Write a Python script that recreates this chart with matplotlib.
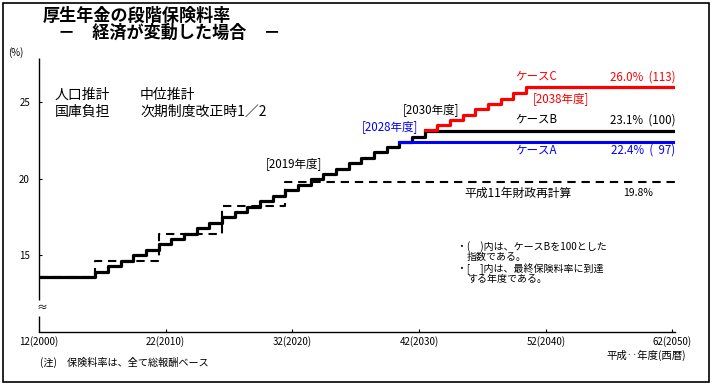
import matplotlib
matplotlib.use('Agg')
import matplotlib.pyplot as plt
from matplotlib.patches import Rectangle

plt.rcParams['font.family'] = ['Noto Sans CJK JP', 'DejaVu Sans']

# base path (common to all cases), fiscal years and rates (%)
base_years = [2000, 2004, 2005, 2006, 2007, 2008, 2009, 2010, 2011, 2012, 2013,
              2014, 2015, 2016, 2017, 2018, 2019, 2020, 2021, 2022, 2023,
              2024, 2025, 2026, 2027, 2028, 2029, 2030]
base_rates = [13.58, 13.93, 14.30, 14.65, 15.00, 15.37, 15.72, 16.08, 16.41, 16.76, 17.12,
              17.48, 17.85, 18.18, 18.54, 18.90, 19.25, 19.60, 19.96, 20.32, 20.67,
              21.02, 21.38, 21.75, 22.10, 22.40, 22.75, 23.10]
caseA_years = [2028]
caseA_rates = [22.4]
caseC_years = [2030, 2031, 2032, 2033, 2034, 2035, 2036, 2037, 2038]
caseC_rates = [23.2, 23.5, 23.85, 24.2, 24.55, 24.9, 25.25, 25.6, 26.0]
h11_years = [2000, 2004, 2009, 2014, 2019]
h11_rates = [13.58, 14.6, 16.4, 18.2, 19.8]

xtick_years = [2000, 2010, 2020, 2030, 2040, 2050]
xtick_labels = ['12(2000)', '22(2010)', '32(2020)', '42(2030)', '52(2040)', '62(2050)']
ytick_vals = [15, 20, 25]

XMAX = 2050.2
SHIFT = 0.45  # rates change in October

W, H = 714, 387
fig = plt.figure(figsize=(W / 100, H / 100), dpi=100)
ax = fig.add_axes([39 / W, 1 - 331.7 / H, 636 / W, 273.7 / H])
ax.set_xlim(2000, XMAX)
ax.set_ylim(10, 27.9)


def steps(years, rates):
    xs = [y + SHIFT if y > 2000 else 2000 for y in years] + [XMAX]
    ys = list(rates) + [rates[-1]]
    return xs, ys


x, y = steps(h11_years, h11_rates)
ax.step(x, y, where='post', color='black', lw=1.5, ls=(0, (4, 2.8)))
x, y = steps(base_years, base_rates)
ax.step(x, y, where='post', color='black', lw=2.3)
x, y = steps(caseA_years, caseA_rates)
ax.step(x, y, where='post', color='#0000ff', lw=2.2)
x, y = steps(caseC_years, caseC_rates)
ax.step(x, y, where='post', color='#ff0000', lw=2.3)

# axes
for s in ['top', 'right', 'left']:
    ax.spines[s].set_visible(False)
ax.spines['bottom'].set_linewidth(1.0)
ax.vlines(2000, 10, 11.0, color='black', lw=1.0, clip_on=False)
ax.vlines(2000, 12.1, 27.9, color='black', lw=1.0, clip_on=False)
ax.text(2000.25, 11.55, '≈', ha='center', va='center', fontsize=8)

ax.set_xticks(xtick_years)
ax.set_xticklabels(xtick_labels)
ax.set_yticks(ytick_vals)
ax.tick_params(direction='in', length=2.5, width=0.8, labelsize=7)
ax.tick_params(axis='x', pad=3.5)
ax.tick_params(axis='y', pad=6.5)

# annotations on lines
fs = 8.3
ax.text(2017.9, 21.03, '[2019年度]', fontsize=fs, va='center')
ax.text(2025.5, 23.45, '[2028年度]', fontsize=fs, va='center', color='#0000ff')
ax.text(2028.7, 24.56, '[2030年度]', fontsize=fs, va='center')
ax.text(2039.0, 25.22, '[2038年度]', fontsize=fs, va='center', color='#ff0000')
ax.text(2037.6, 26.72, 'ケースC', fontsize=fs, va='center', color='#ff0000')
ax.text(2037.6, 23.91, 'ケースB', fontsize=fs, va='center')
ax.text(2037.6, 21.88, 'ケースA', fontsize=fs, va='center', color='#0000ff')
ax.text(XMAX, 26.66, '26.0%  (113)', fontsize=fs, va='center', ha='right', color='#ff0000')
ax.text(XMAX, 23.85, '23.1%  (100)', fontsize=fs, va='center', ha='right')
ax.text(XMAX, 21.88, '22.4%  (  97)', fontsize=fs, va='center', ha='right', color='#0000ff')
ax.text(2033.6, 19.07, '平成11年財政再計算', fontsize=8.5, va='center')
ax.text(2046.1, 19.07, '19.8%', fontsize=7.5, va='center')


def ftext(px, py, s, **kw):
    fig.text(px / W, 1 - py / H, s, va='center', **kw)


ftext(43, 16, '厚生年金の段階保険料率', fontsize=12.3, fontweight='bold')
ftext(58, 33, '－　経済が変動した場合　－', fontsize=12.3, fontweight='bold')
ftext(8, 53, '(%)', fontsize=7)
ftext(55, 95, '人口推計', fontsize=10)
ftext(140, 95, '中位推計', fontsize=10)
ftext(55, 112, '国庫負担', fontsize=10)
ftext(140, 112, '次期制度改正時1／2', fontsize=10)
ftext(457, 247, '・(　)内は、ケースBを100とした', fontsize=7.2)
ftext(467, 257, '指数である。', fontsize=7.2)
ftext(457, 269, '・[　]内は、最終保険料率に到達', fontsize=7.2)
ftext(467, 279, 'する年度である。', fontsize=7.2)
ftext(686, 355, '平成‥年度(西暦)', fontsize=7.5, ha='right')
ftext(40, 362, '(注)　保険料率は、全て総報酬ベース', fontsize=7.3)

fig.patches.append(Rectangle((3 / W, 1 - 382 / H), 706 / W, 379 / H, transform=fig.transFigure,
                             fill=False, edgecolor='black', lw=1.2))

fig.savefig('out.png', dpi=100)
